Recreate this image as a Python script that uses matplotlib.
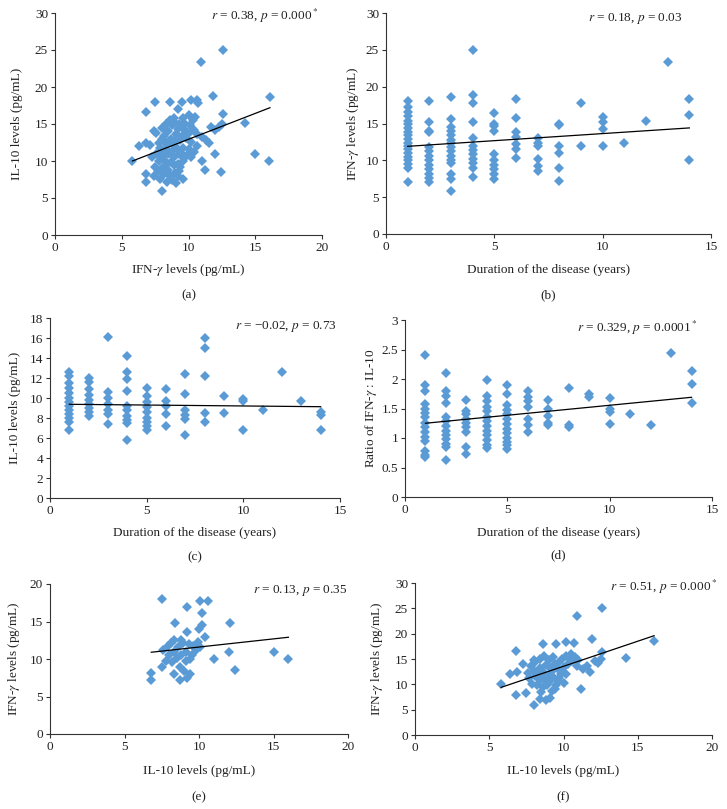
import matplotlib
matplotlib.use("Agg")
import matplotlib.pyplot as plt

plt.rcParams['font.family'] = ['Liberation Serif', 'DejaVu Serif']
plt.rcParams['mathtext.fontset'] = 'stix'

# ---- data ----
# (a) IFN-gamma vs IL-10
a_ifn = [12.6, 10.9, 16.1, 11.8, 7.5, 8.6, 9.5, 10.2, 10.6, 10.7, 6.8, 9.2, 12.6, 14.2, 15.0, 16.0,
         5.8, 6.3, 6.8, 7.1, 7.4, 6.8, 6.8, 8.0, 12.4, 11.2, 11.0, 12.0, 12.0, 12.3, 12.5, 11.7,
         11.5, 11.0, 11.3, 10.5, 10.3, 9.6, 10.0,
         8.0, 8.3, 8.6, 8.8, 9.0, 8.5, 9.2, 9.5, 9.8, 10.1, 10.4, 10.6, 8.2, 8.7, 9.1, 9.4, 9.8,
         10.2, 10.6, 7.8, 8.4, 9.0, 9.6, 10.0, 10.4,
         7.6, 8.0, 8.5, 8.9, 9.3, 9.7, 7.3, 7.8, 8.2, 8.7, 9.2, 9.6, 7.5, 8.0, 8.5, 9.0,
         7.4, 7.9, 8.4, 8.8, 9.1, 9.3, 9.6, 8.2,
         8.3, 8.9, 9.3, 9.7, 8.1, 8.6, 9.0, 9.5, 10.0, 7.9, 8.3, 8.8, 9.2, 9.5, 9.9, 10.2,
         8.0, 8.4, 8.9, 9.4, 7.7, 8.2, 8.6, 9.2, 7.6, 8.0]
a_il10 = [25.0, 23.4, 18.6, 18.8, 18.0, 18.0, 18.0, 18.2, 18.3, 17.8, 16.6, 17.0, 16.4, 15.2, 11.0, 10.0,
          10.0, 12.0, 12.5, 12.2, 14.0, 8.2, 7.2, 5.9, 8.5, 8.8, 10.0, 11.0, 14.2, 14.6, 15.0, 14.6,
          12.5, 13.2, 12.8, 16.0, 15.5, 15.8, 16.2,
          14.5, 15.0, 15.5, 14.8, 15.2, 14.0, 14.3, 14.6, 14.0, 14.8, 14.2, 13.6, 13.4, 13.0, 13.6, 12.8, 13.1,
          12.6, 12.0, 12.4, 12.2, 12.0, 11.8, 11.6, 11.2,
          11.0, 11.4, 11.0, 10.6, 10.9, 10.4, 10.6, 10.0, 10.2, 9.8, 9.6, 10.0, 9.2, 9.0, 8.8, 8.4,
          8.0, 7.6, 7.2, 7.4, 7.0, 8.6, 7.6, 8.2,
          14.2, 15.8, 15.0, 15.2, 12.8, 12.6, 12.9, 13.4, 13.8, 11.8, 11.6, 11.4, 11.5, 11.0, 10.8, 10.6,
          10.6, 9.6, 9.4, 9.2, 8.6, 8.8, 8.0, 8.0, 13.8, 13.0]
a_fit_x = [5.8, 16.1]
a_fit_y = [10.0, 17.2]

# (b) duration vs IFN-gamma, one list per year 1..14
years = list(range(1, 15))
b_ifn_by_year = [
    [18.0, 17.3, 16.6, 16.0, 15.4, 14.9, 14.4, 13.9, 13.4, 12.9, 12.4, 12.0, 11.5, 11.0, 10.5, 10.0, 9.5, 9.0, 7.1],
    [18.0, 15.2, 14.0, 13.8, 11.8, 11.2, 10.6, 10.0, 9.4, 8.8, 8.2, 7.6, 7.1],
    [18.6, 15.6, 14.5, 14.0, 13.4, 12.8, 12.3, 11.8, 11.2, 10.6, 10.0, 9.6, 8.2, 7.4, 5.9],
    [25.0, 18.9, 17.8, 15.2, 13.0, 12.0, 11.4, 10.8, 10.2, 9.6, 9.0, 7.8],
    [16.4, 15.0, 14.6, 14.0, 10.8, 10.0, 9.4, 8.8, 8.2, 7.4],
    [18.3, 15.8, 13.8, 13.2, 12.2, 11.6, 10.3],
    [13.0, 12.4, 11.9, 10.2, 9.2, 8.5],
    [15.0, 14.8, 12.0, 11.0, 9.0, 7.2],
    [17.8, 12.0],
    [15.9, 15.2, 14.2, 12.0],
    [12.3],
    [15.3],
    [23.4],
    [18.3, 16.2, 10.0],
]
b_fit_x = [1, 14]
b_fit_y = [11.9, 14.4]

# (c) duration vs IL-10
c_il10_by_year = [
    [12.6, 12.2, 11.5, 11.0, 10.5, 10.0, 9.6, 9.2, 8.8, 8.4, 8.0, 7.6, 6.8],
    [12.0, 11.6, 10.9, 10.3, 9.8, 9.4, 9.0, 8.6, 8.2],
    [16.1, 10.6, 10.0, 9.4, 8.8, 8.4, 7.4],
    [14.2, 12.6, 11.9, 10.7, 9.2, 8.8, 8.2, 7.8, 7.5, 5.8],
    [11.0, 10.2, 9.6, 9.1, 8.6, 8.0, 7.6, 7.2, 6.8],
    [10.9, 9.7, 9.2, 8.4, 7.2],
    [12.4, 10.4, 8.8, 8.3, 7.9, 6.3],
    [16.0, 15.0, 12.2, 8.5, 7.6],
    [10.2, 8.5],
    [9.9, 9.7, 6.8],
    [8.8],
    [12.6],
    [9.7],
    [8.6, 8.3, 6.8],
]
c_fit_x = [1, 14]
c_fit_y = [9.37, 9.13]

# (d) duration vs IFN-gamma : IL-10 ratio
d_ratio_by_year = [
    [2.4, 1.9, 1.8, 1.58, 1.5, 1.42, 1.35, 1.25, 1.18, 1.1, 1.02, 0.95, 0.78, 0.72, 0.68],
    [2.1, 1.8, 1.72, 1.6, 1.35, 1.28, 1.2, 1.12, 1.05, 0.98, 0.9, 0.85, 0.62],
    [1.65, 1.45, 1.4, 1.32, 1.25, 1.18, 1.1, 0.84, 0.73],
    [1.98, 1.72, 1.62, 1.52, 1.45, 1.36, 1.28, 1.2, 1.12, 1.05, 0.97, 0.88, 0.83],
    [1.9, 1.75, 1.56, 1.48, 1.4, 1.32, 1.24, 1.16, 1.08, 1.0, 0.94, 0.88, 0.82],
    [1.8, 1.7, 1.62, 1.52, 1.33, 1.22, 1.1],
    [1.64, 1.5, 1.38, 1.26, 1.22],
    [1.85, 1.22, 1.18],
    [1.75, 1.7],
    [1.67, 1.5, 1.44, 1.24],
    [1.41],
    [1.22],
    [2.44],
    [2.14, 1.91, 1.6],
]
d_fit_x = [1, 14]
d_fit_y = [1.25, 1.69]

# (e) IL-10 vs IFN-gamma
e_il10 = [7.5, 10.1, 10.6, 9.2, 10.2, 8.4, 12.1, 10.2, 10.0, 9.2, 10.4, 10.1, 12.0, 15.0, 11.0, 16.0,
          12.4, 6.8, 6.8, 7.5, 8.3, 8.7, 9.2,
          7.6, 7.9, 8.1, 8.3, 8.0, 8.3, 8.6, 8.9, 9.1, 8.5, 8.8, 9.3, 9.6, 9.8, 9.5, 9.1, 8.2, 7.8,
          9.9, 8.7, 9.0, 9.4, 8.8, 9.4]
e_ifn = [18.0, 17.8, 17.8, 17.0, 16.1, 14.8, 14.8, 14.5, 14.0, 13.6, 13.0, 11.6, 11.0, 11.0, 10.0, 10.0,
         8.5, 8.2, 7.2, 9.0, 8.0, 7.2, 7.5,
         11.2, 11.8, 12.2, 12.6, 10.6, 11.0, 11.6, 12.2, 11.0, 10.2, 10.5, 12.0, 11.8, 11.2, 10.5, 9.8, 9.6, 9.8,
         12.3, 9.0, 8.4, 8.0, 12.6, 10.0]
e_fit_x = [6.8, 16.0]
e_fit_y = [10.9, 12.9]

# (f) IL-10 vs IFN-gamma
f_il10 = [12.6, 10.9, 16.1, 11.9, 8.6, 9.5, 10.2, 10.7, 6.8, 14.2, 12.6, 12.5, 12.3, 12.1, 11.6, 11.3,
          11.8, 11.2, 5.8, 6.4, 6.9, 7.3, 6.8, 7.5, 8.0, 8.4, 8.8, 9.1, 9.4, 9.9, 10.2,
          7.8, 8.1, 8.4, 8.7, 9.0, 9.3, 9.6, 9.9, 10.2, 10.5, 10.6, 10.3, 8.0, 8.4, 8.7, 9.0, 9.3, 9.6,
          10.0, 7.7, 8.1, 8.4, 8.7, 9.0, 9.3, 9.6, 8.2, 8.6, 8.9, 7.9, 9.2, 8.5,
          8.2, 8.8, 9.4, 9.8, 10.4, 10.8, 11.0, 8.0, 8.5, 9.1, 9.7, 8.9, 9.5, 7.6, 10.9, 10.0]
f_ifn = [25.0, 23.4, 18.6, 18.9, 18.0, 18.0, 18.3, 18.2, 16.6, 15.2, 16.4, 15.0, 14.2, 14.6, 13.6, 13.0,
         12.4, 9.0, 10.0, 12.0, 12.4, 14.0, 7.8, 8.2, 5.9, 7.2, 7.0, 7.4, 9.0, 12.4, 12.0,
         13.6, 14.4, 15.0, 15.6, 14.8, 15.4, 14.2, 15.0, 15.6, 16.0, 14.6, 14.0, 12.6, 13.2, 12.2, 13.4, 12.8, 13.0,
         13.4, 11.2, 11.6, 10.8, 11.0, 10.4, 11.4, 10.6, 9.8, 9.4, 9.8, 10.0, 8.6, 8.4,
         12.0, 13.8, 14.0, 12.0, 15.2, 15.4, 14.8, 14.9, 11.8, 12.0, 11.2, 10.8, 9.8, 12.2, 13.6, 10.2]
f_fit_x = [5.8, 16.1]
f_fit_y = [9.4, 19.6]


def expand(by_year):
    xs, ys = [], []
    for yr, vals in zip(years, by_year):
        xs += [yr] * len(vals)
        ys += vals
    return xs, ys


W, H = 727, 809
fig = plt.figure(figsize=(W / 100, H / 100), dpi=100)
BLUE = '#5b9bd5'
TXT = '#222222'
FS = 9.5


def ftext(x, y, s, ha='center', rot=0):
    # text placed in figure pixels (top-left origin)
    fig.text(x / W, 1 - y / H, s, ha=ha, va='center', rotation=rot,
             fontsize=FS, color=TXT)


def panel(box, x, y, fx, fy, xmax, ymax, ystep, xlabel, ylabel, note, tag,
          ylab_x, xlab_y, tag_y, note_pos, ylabels=None):
    l, r, t, b = box
    ax = fig.add_axes([l / W, 1 - b / H, (r - l) / W, (b - t) / H])
    ax.plot(x, y, 'D', color=BLUE, ms=5.5, mew=0, zorder=2, clip_on=False)
    ax.plot(fx, fy, color='black', lw=0.9, zorder=3)
    ax.set_xlim(0, xmax)
    ax.set_ylim(0, ymax)
    ax.set_xticks(range(0, xmax + 1, 5))
    yt = [i * ystep for i in range(int(round(ymax / ystep)) + 1)]
    ax.set_yticks(yt)
    if ylabels:
        ax.set_yticklabels(ylabels)
    for s in ['top', 'right']:
        ax.spines[s].set_visible(False)
    for s in ['left', 'bottom']:
        ax.spines[s].set_linewidth(0.8)
        ax.spines[s].set_color('#333333')
    ax.tick_params(direction='out', length=3, width=0.8, color='#333333',
                   labelsize=FS, pad=2, labelcolor=TXT)
    ftext((l + r) / 2, xlab_y, xlabel)
    ftext(ylab_x, (t + b) / 2, ylabel, rot=90)
    ftext(note_pos[0], note_pos[1], note, ha='right')
    ftext((l + r) / 2, tag_y, tag)
    return ax


bx, by = expand(b_ifn_by_year)
cx, cy = expand(c_il10_by_year)
dx, dy = expand(d_ratio_by_year)

panel((55, 322, 13, 235), a_ifn, a_il10, a_fit_x, a_fit_y, 20, 30, 5,
      'IFN-$\\gamma$ levels (pg/mL)', 'IL-10 levels (pg/mL)',
      '$r$ = 0.38, $p$ = 0.000$^*$', '(a)', 17, 270, 295, (318, 16))
panel((386, 711, 13, 234), bx, by, b_fit_x, b_fit_y, 15, 30, 5,
      'Duration of the disease (years)', 'IFN-$\\gamma$ levels (pg/mL)',
      '$r$ = 0.18, $p$ = 0.03', '(b)', 353, 270, 295, (682, 19))
panel((50, 340, 318, 498), cx, cy, c_fit_x, c_fit_y, 15, 18, 2,
      'Duration of the disease (years)', 'IL-10 levels (pg/mL)',
      '$r$ = \u22120.02, $p$ = 0.73', '(c)', 15, 533, 557, (337, 327))
panel((405, 712, 320, 497), dx, dy, d_fit_x, d_fit_y, 15, 3, 0.5,
      'Duration of the disease (years)', 'Ratio of IFN-$\\gamma$ : IL-10',
      '$r$ = 0.329, $p$ = 0.0001$^*$', '(d)', 371, 533, 555, (697, 328),
      ylabels=['0', '0.5', '1', '1.5', '2', '2.5', '3'])
panel((50, 348, 584, 734), e_il10, e_ifn, e_fit_x, e_fit_y, 20, 20, 5,
      'IL-10 levels (pg/mL)', 'IFN-$\\gamma$ levels (pg/mL)',
      '$r$ = 0.13, $p$ = 0.35', '(e)', 14, 771, 797, (347, 590))
panel((415, 712, 583, 735), f_il10, f_ifn, f_fit_x, f_fit_y, 20, 30, 5,
      'IL-10 levels (pg/mL)', 'IFN-$\\gamma$ levels (pg/mL)',
      '$r$ = 0.51, $p$ = 0.000$^*$', '(f)', 377, 771, 797, (717, 587))

fig.savefig('out.png', dpi=100)
